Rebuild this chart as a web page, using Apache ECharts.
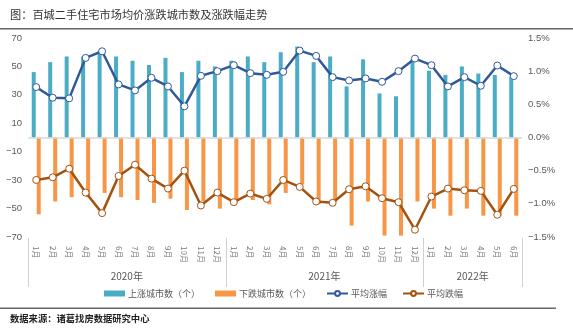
<!DOCTYPE html>
<html><head><meta charset="utf-8">
<style>html,body{margin:0;padding:0;background:#fff}#c{width:573px;height:332px}</style>
<script src="https://cdn.jsdelivr.net/npm/echarts@6/dist/echarts.min.js"></script>
</head><body><div id="c"></div>
<script>
const months = ['1月','2月','3月','4月','5月','6月','7月','8月','9月','10月','11月','12月',
  '1月','2月','3月','4月','5月','6月','7月','8月','9月','10月','11月','12月',
  '1月','2月','3月','4月','5月','6月'];
const years = ['2020年','2021年','2022年'];
const yearBounds = [0,12,24,30];
const yearCenters = [6,18,27];
const upCities = [46,53,57,57,61,57,54,51,56,46,54,50, 54,57,53,60,64,53,57,36,55,31,29,55, 47,44,50,45,44,43];
const downCities = [-54,-45,-42,-42,-39,-42,-44,-46,-43,-51,-45,-50, -45,-44,-47,-39,-33,-47,-45,-62,-45,-69,-69,-45, -50,-55,-50,-55,-55,-55];
const upPct = [0.76,0.60,0.59,1.20,1.30,0.80,0.71,0.90,0.77,0.47,0.93,1.00, 1.09,0.97,0.945,0.99,1.31,1.23,0.91,0.86,0.89,0.84,1.00,1.19, 1.09,0.77,0.91,0.78,1.085,0.925];
const downPct = [-0.64,-0.60,-0.47,-0.83,-1.14,-0.58,-0.41,-0.62,-0.77,-0.50,-1.025,-0.83, -0.975,-0.845,-0.925,-0.64,-0.745,-0.965,-0.985,-0.78,-0.735,-0.915,-0.975,-1.39, -0.89,-0.77,-0.795,-0.805,-1.165,-0.775];
const leftTicks = {min:-70,max:70,interval:20};
const rightTicks = {min:-1.5,max:1.5,interval:0.5};

const FONT = "'Liberation Sans','Noto Sans CJK SC',sans-serif";
const CJK = "'Noto Sans CJK SC','Liberation Sans',sans-serif";
const chart = echarts.init(document.getElementById('c'));
const lab = {color:'#595959',fontSize:9.5,fontFamily:FONT};
const upColor='#30599a', downColor='#a5520f';
const gridBottom = 95, H = 332;
chart.setOption({
  animation:false,
  textStyle:{fontFamily:CJK},
  grid:{left:28,right:51,top:38,bottom:gridBottom},
  graphic:[
    {type:'text',left:10,top:9,style:{text:'图：百城二手住宅市场均价涨跌城市数及涨跌幅走势',fontSize:11.2,fill:'#333',fontFamily:CJK}},
    {type:'rect',shape:{x:0,y:28,width:573,height:1.5},style:{fill:'#666'}},
    {type:'rect',shape:{x:0,y:307.5,width:556,height:1.5},style:{fill:'#666'}},
    {type:'text',left:10,top:314,style:{text:'数据来源：诸葛找房数据研究中心',fontSize:9.3,fontWeight:'bold',fill:'#222',fontFamily:CJK}}
  ],
  legend:{left:104,top:289,padding:0,itemGap:15,itemWidth:21,itemHeight:6,
    textStyle:{color:'#595959',fontSize:9,fontFamily:CJK,padding:[0,0,0,-2]},
    data:[{name:'上涨城市数（个）',icon:'rect'},{name:'下跌城市数（个）',icon:'rect'},'平均涨幅','平均跌幅']},
  xAxis:[
    {type:'category',data:months,position:'bottom',
      axisLine:{show:false},axisTick:{show:false},
      axisLabel:{rotate:-90,margin:9,interval:0,fontSize:8,color:'#7a7a7a',fontFamily:CJK}},
    {type:'value',min:0,max:30,position:'bottom',
      axisLine:{show:false},splitLine:{show:false},axisTick:{show:false},
      axisLabel:{customValues:yearCenters,margin:34,color:'#595959',fontSize:10,fontFamily:CJK,
        formatter:function(v){return years[yearCenters.indexOf(v)]||'';}}}
  ],
  yAxis:[
    {type:'value',min:leftTicks.min,max:leftTicks.max,interval:leftTicks.interval,
      axisLine:{show:false},axisTick:{show:false},splitLine:{show:false},
      axisLabel:Object.assign({margin:6,formatter:function(v){return String(v).replace('-','−');}},lab)},
    {type:'value',min:rightTicks.min,max:rightTicks.max,interval:rightTicks.interval,
      axisLine:{show:false},axisTick:{show:false},splitLine:{show:false},
      axisLabel:Object.assign({margin:6,formatter:function(v){return (v.toFixed(1)+'%').replace('-','−');}},lab)}
  ],
  series:[
    {name:'上涨城市数（个）',type:'bar',data:upCities,barWidth:4,barGap:'25%',itemStyle:{color:'#4bacc6'},
      markLine:{silent:true,symbol:'none',label:{show:false},lineStyle:{color:'#d9d9d9',type:'solid',width:1.5},data:[{yAxis:0}]}},
    {name:'下跌城市数（个）',type:'bar',data:downCities,barWidth:4,itemStyle:{color:'#f79646'}},
    {name:'平均涨幅',type:'line',yAxisIndex:1,data:upPct,symbol:'circle',symbolSize:7,z:5,
      lineStyle:{color:upColor,width:2.5},itemStyle:{color:'#fff',borderColor:upColor,borderWidth:1}},
    {name:'平均跌幅',type:'line',yAxisIndex:1,data:downPct,symbol:'circle',symbolSize:7,z:5,
      lineStyle:{color:downColor,width:2.5},itemStyle:{color:'#fff',borderColor:downColor,borderWidth:1}}
  ]
});
// year separators at group boundaries, positioned through the value x-axis scale
const y0 = H - gridBottom + 1;
const sep = yearBounds.map(function(b,i){
  const x = Math.round(chart.convertToPixel({xAxisIndex:1}, b)) + 0.5;
  return {type:'line',id:'sep'+i,silent:true,shape:{x1:x,y1:y0,x2:x,y2:y0+49},style:{stroke:'#d0d0d0',lineWidth:1}};
});
chart.setOption({graphic:sep});
</script></body></html>
